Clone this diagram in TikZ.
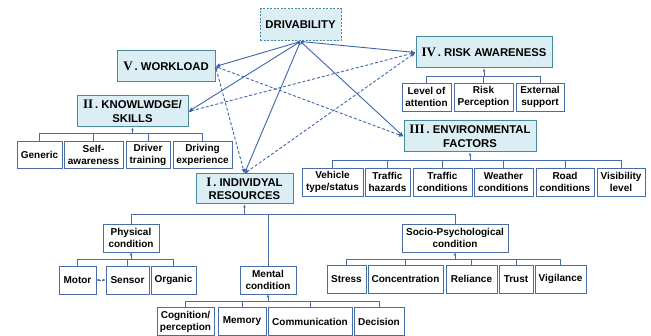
\documentclass[tikz,border=0pt]{standalone}
\usepackage{fontspec}
\setmainfont{Liberation Sans}
\newfontfamily\numfont{Liberation Serif}
\usetikzlibrary{shapes,arrows,arrows.meta}
\definecolor{boxfill}{RGB}{218,238,243}
\definecolor{boxline}{RGB}{72,138,158}
\definecolor{itemline}{RGB}{72,108,168}
\definecolor{linkline}{RGB}{62,100,170}
\newcommand*{\rnum}[1]{{\numfont\fontsize{13}{13.5}\selectfont #1}\,.~}

\begin{document}
\begin{tikzpicture}[x=1pt,y=-1pt,
    box_wh/.style 2 args ={minimum width=#1, minimum height=#2},
    block_main/.style ={rectangle, draw=boxline, line width=1pt, fill=boxfill,
      align=center, inner sep=0pt, font=\bfseries\fontsize{11.3}{13.5}\selectfont},
    block_item/.style ={rectangle, draw=itemline, line width=0.9pt, fill=white,
      align=center, inner sep=0pt, font=\bfseries\fontsize{10}{12}\selectfont},
    line/.style ={draw=linkline, line width=0.9pt,
      {Latex[length=3pt,width=3pt]}-{Latex[length=4.5pt,width=4pt]}},
    line_dash/.style ={line, dash pattern=on 3pt off 2pt},
    tree/.style ={draw=itemline, line width=0.8pt},
    tree_up/.style ={tree, -{Latex[length=3pt,width=3pt]}}]
    \useasboundingbox (0,0) rectangle (651,336);
    % main factors
    \node [block_main, box_wh={81}{32}, dash pattern=on 2pt off 1.5pt] (drive) at (300.5,25) {DRIVABILITY};
    \node [block_main, box_wh={98}{31}] (workload) at (166,66.5) {\rnum{V}WORKLOAD};
    \node [block_main, box_wh={111}{31}] (knowledge) at (132.5,111.5) {\rnum{II}KNOWLWDGE/\\SKILLS};
    \node [block_main, box_wh={136}{31}] (risk) at (484,52.5) {\rnum{IV}RISK AWARENESS};
    \node [block_main, box_wh={132}{31}] (env) at (470,136.5) {\rnum{III}ENVIRONMENTAL\\FACTORS};
    \node [block_main, box_wh={97}{30}] (indiv) at (244.5,189) {\rnum{I}INDIVIDYAL\\RESOURCES};
    % knowledge / skills
    \node [block_item, box_wh={45}{27}] (generic) at (39.5,154.5) {Generic};
    \node [block_item, box_wh={59}{27}] (selfaware) at (93.5,154.5) {Self-\\awareness};
    \node [block_item, box_wh={44}{27}] (drv_training) at (148,154.5) {Driver\\training};
    \node [block_item, box_wh={59}{27}] (drv_experience) at (202.5,154.5) {Driving\\experience};
    % risk awareness
    \node [block_item, box_wh={49}{28}] (attention) at (426.5,97) {Level of\\attention};
    \node [block_item, box_wh={59}{28}] (perception) at (483.5,97) {Risk\\Perception};
    \node [block_item, box_wh={48}{28}] (support) at (540,97) {External\\support};
    % environmental factors
    \node [block_item, box_wh={61}{28}] (vehicle) at (332.5,182) {Vehicle\\type/status};
    \node [block_item, box_wh={45}{28}] (hazards) at (387.5,182) {Traffic\\hazards};
    \node [block_item, box_wh={59}{28}] (traffic) at (442.5,182) {Traffic\\conditions};
    \node [block_item, box_wh={59}{28}] (weather) at (503.5,182) {Weather\\conditions};
    \node [block_item, box_wh={58}{28}] (road) at (565,182) {Road\\conditions};
    \node [block_item, box_wh={48}{28}] (visibility) at (621,182) {Visibility\\level};
    % individual resources
    \node [block_item, box_wh={56}{28}] (physical) at (131,238) {Physical\\condition};
    \node [block_item, box_wh={56}{28}] (mental) at (268,280) {Mental\\condition};
    \node [block_item, box_wh={106}{28}] (socio) at (455,238) {Socio-Psychological\\condition};
    \node [block_item, box_wh={37}{28}] (motor) at (77.5,280) {Motor};
    \node [block_item, box_wh={43}{28}] (sensor) at (127.5,280) {Sensor};
    \node [block_item, box_wh={45}{28}] (organic) at (173.5,280) {Organic};
    \node [block_item, box_wh={57}{27.5}] (cognition) at (185.5,321.5) {Cognition/\\perception};
    \node [block_item, box_wh={48}{27.5}] (memory) at (242,321.5) {Memory};
    \node [block_item, box_wh={84}{27.5}] (communication) at (310,321.5) {Communication};
    \node [block_item, box_wh={50}{27.5}] (decision) at (379,321.5) {Decision};
    \node [block_item, box_wh={39}{28}] (stress) at (346.5,279) {Stress};
    \node [block_item, box_wh={75}{28}] (concentration) at (405.5,279) {Concentration};
    \node [block_item, box_wh={51}{28}] (reliance) at (471.5,279) {Reliance};
    \node [block_item, box_wh={34}{28}] (trust) at (516,279) {Trust};
    \node [block_item, box_wh={51}{28}] (vigilance) at (560.5,279) {Vigilance};
    % bus points of the trees
    \coordinate (k_bus) at (132.5,133);
    \coordinate (r_bus) at (484,76);
    \coordinate (e_bus) at (470,160);
    \coordinate (i_bus) at (244.5,214);
    \coordinate (p_bus) at (131,259);
    \coordinate (m_bus) at (268,301);
    \coordinate (s_bus) at (455,259);
    % trees
    \foreach \c in {generic,selfaware,drv_training,drv_experience}
      \path [tree] (\c.north) |- (k_bus);
    \foreach \c in {attention,perception,support}
      \path [tree] (\c.north) |- (r_bus);
    \foreach \c in {vehicle,hazards,traffic,weather,road,visibility}
      \path [tree] (\c.north) |- (e_bus);
    \foreach \c in {physical,mental,socio}
      \path [tree] (\c.north) |- (i_bus);
    \foreach \c in {motor,sensor,organic}
      \path [tree] (\c.north) |- (p_bus);
    \foreach \c in {cognition,memory,communication,decision}
      \path [tree] (\c.north) |- (m_bus);
    \foreach \c in {stress,concentration,reliance,trust,vigilance}
      \path [tree] (\c.north) |- (s_bus);
    \path [tree_up] (k_bus) -- (knowledge.south);
    \path [tree_up] (r_bus) -- (risk.south);
    \path [tree_up] (e_bus) -- (env.south);
    \path [tree_up] (i_bus) -- (indiv.south);
    \path [tree_up] (p_bus) -- (physical.south);
    \path [tree_up] (m_bus) -- (mental.south);
    \path [tree_up] (s_bus) -- (socio.south);
    \path [tree, dash pattern=on 1.5pt off 1pt,
      {Latex[length=3pt,width=3pt]}-{Latex[length=3pt,width=3pt]}] (motor) -- (sensor);
    % links to drivability
    \path [line] (drive.south) -- (workload.east);
    \path [line] (drive.south) -- (knowledge.east);
    \path [line] (drive.south) -- (indiv.north);
    \path [line] (drive.south) -- (risk.west);
    \path [line] (drive.south) -- (env.west);
    % links between factors
    \path [line_dash] (workload.east) -- (env.west);
    \path [line_dash] (workload.east) -- (indiv.north);
    \path [line_dash] (knowledge.east) -- (risk.west);
    \path [line_dash] (indiv.north) -- (risk.west);
\end{tikzpicture}
\end{document}
